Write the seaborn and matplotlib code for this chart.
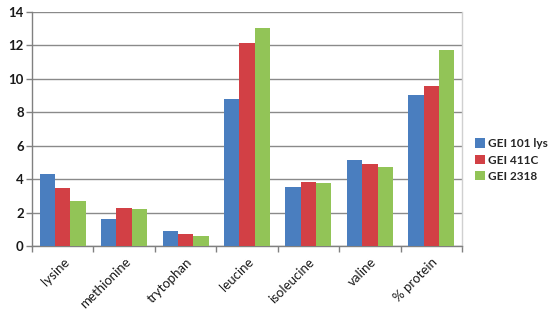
import matplotlib
matplotlib.use("Agg")
import matplotlib.pyplot as plt
import seaborn as sns
import pandas as pd
from matplotlib.ticker import FixedLocator
from matplotlib.patches import Patch

categories = ["lysine", "methionine", "trytophan", "leucine", "isoleucine", "valine", "% protein"]
series_names = ["GEI 101 lys", "GEI 411C", "GEI 2318"]
gei_101_lys = [4.29, 1.64, 0.88, 8.80, 3.51, 5.15, 9.04]
gei_411c = [3.45, 2.25, 0.72, 12.17, 3.81, 4.89, 9.56]
gei_2318 = [2.69, 2.19, 0.58, 13.07, 3.75, 4.73, 11.71]
y_ticks = [0, 2, 4, 6, 8, 10, 12, 14]
colors = ["#4A7EBF", "#D24045", "#92C457"]

rows = []
for name, vals in zip(series_names, [gei_101_lys, gei_411c, gei_2318]):
    for c, v in zip(categories, vals):
        rows.append({"category": c, "series": name, "value": v})
df = pd.DataFrame(rows)

sns.set_theme(style="white")
plt.rcParams["font.family"] = ["Lato", "DejaVu Sans"]

fig = plt.figure(figsize=(5.56, 3.17), dpi=100)
ax = fig.add_axes([32 / 556, 1 - 246 / 317, 430 / 556, 234 / 317])

sns.barplot(data=df, x="category", y="value", hue="series", order=categories,
            hue_order=series_names, palette=colors, width=0.75, ax=ax,
            saturation=1, edgecolor="none", legend=False, zorder=3)

ax.set_xlim(-0.5, len(categories) - 0.5)
ax.set_ylim(0, 14)
ax.set_yticks(y_ticks)
ax.set_yticklabels([str(t) for t in y_ticks], fontsize=9.5, fontweight="bold", color="#1a1a1a")
ax.yaxis.grid(True, color="#8a8a8a", linewidth=1.0, zorder=0)
ax.set_xlabel("")
ax.set_ylabel("")

ax.set_xticks(range(len(categories)))
ax.set_xticklabels(categories, rotation=45, ha="right", rotation_mode="anchor",
                   fontsize=9.5, color="#1a1a1a")
ax.tick_params(axis="x", which="major", length=0, pad=7)
ax.xaxis.set_minor_locator(FixedLocator([i - 0.5 for i in range(len(categories) + 1)]))
ax.tick_params(axis="x", which="minor", length=4, width=1, color="#808080", direction="out", bottom=True)
ax.tick_params(axis="y", length=4, width=1, color="#808080", direction="out", left=True, pad=2)

ax.spines["top"].set_visible(False)
ax.spines["left"].set_color("#808080")
ax.spines["bottom"].set_color("#808080")
ax.spines["right"].set_color("#d0d0d0")
for s in ["left", "bottom", "right"]:
    ax.spines[s].set_linewidth(1.0)
    ax.spines[s].set_visible(True)

handles = [Patch(facecolor=c, edgecolor="none", label=n) for c, n in zip(colors, series_names)]
leg = fig.legend(handles=handles, loc="center left", bbox_to_anchor=(468 / 556, 1 - 160 / 317),
                 frameon=False, handlelength=0.85, handleheight=0.85, handletextpad=0.25,
                 labelspacing=0.45, borderaxespad=0.2,
                 prop={"family": ["Lato", "DejaVu Sans"], "weight": "bold", "size": 8.5})

fig.savefig("out.png", dpi=100)
